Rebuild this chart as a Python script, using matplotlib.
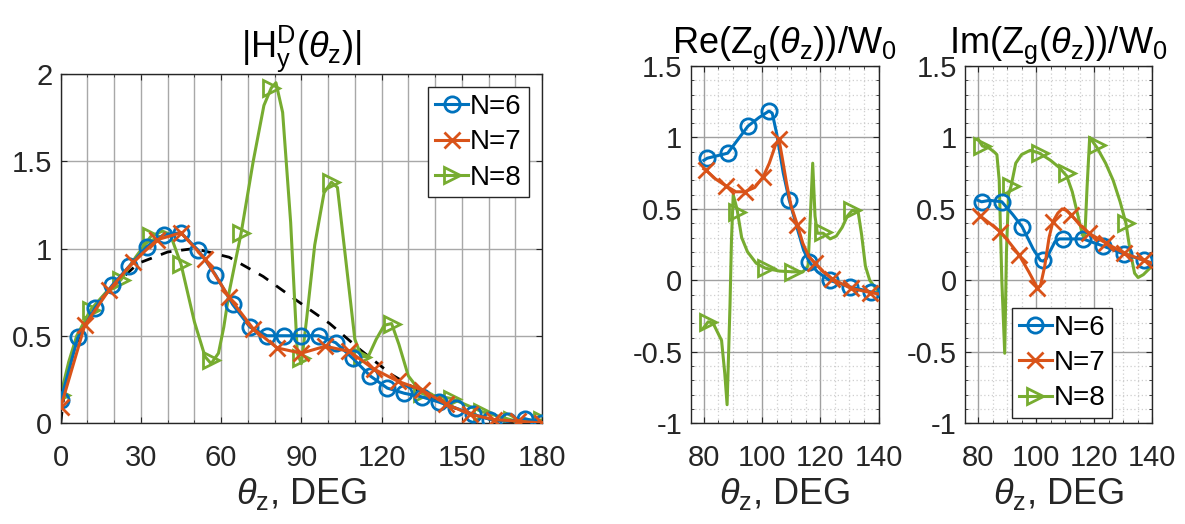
import numpy as np
import matplotlib

matplotlib.use('Agg')
from matplotlib import pyplot as plt
from matplotlib import font_manager
from matplotlib.ticker import MultipleLocator, FuncFormatter

# Helvetica-like face for all text
_have = set(f.name for f in font_manager.fontManager.ttflist)
FACE = next((n for n in ['Liberation Sans', 'Arimo'] if n in _have), 'DejaVu Sans')
plt.rcParams['font.family'] = [FACE, 'DejaVu Sans']
plt.rcParams['mathtext.fontset'] = 'custom'
plt.rcParams['mathtext.rm'] = FACE
plt.rcParams['mathtext.it'] = FACE + ':italic'
plt.rcParams['axes.unicode_minus'] = False

C6 = '#0072BD'
C7 = '#D95319'
C8 = '#77AC30'
TXT = '#262626'

# ---- |Hy| over the full angle range ----
theta6 = np.linspace(0, 180, 29)
h6 = [0.13, 0.49, 0.66, 0.79, 0.90, 1.01, 1.08, 1.09, 0.99, 0.85, 0.68, 0.55, 0.50,
      0.50, 0.50, 0.50, 0.46, 0.37, 0.27, 0.20, 0.17, 0.15, 0.12, 0.085, 0.05, 0.02,
      0.01, 0.025, 0.0]
theta7 = np.linspace(0, 180, 21)
h7 = [0.09, 0.56, 0.76, 0.92, 1.05, 1.09, 0.94, 0.72, 0.54, 0.43, 0.40, 0.44, 0.41,
      0.31, 0.24, 0.19, 0.11, 0.05, 0.02, 0.01, 0.0]
theta8 = np.linspace(0, 180, 17)
h8 = [0.16, 0.65, 0.82, 1.07, 0.91, 0.36, 1.09, 1.92, 0.37, 1.38, 0.38, 0.57, 0.17,
      0.14, 0.065, 0.017, 0.017]
# N=8 curve between the samples
h8_t = [0, 3, 6, 11.25, 17, 22.5, 28, 33.75, 38, 41, 45, 50, 54, 56.25, 59, 61, 63,
        67.5, 72, 76, 78.75, 80.5, 83, 86, 88.5, 90, 92, 95, 98.5, 101.25, 103.5, 106.5,
        110, 112.5, 115, 118, 121, 123.75, 126.5, 130, 135, 146.25, 157.5, 168.75, 180]
h8_v = [0.16, 0.35, 0.5, 0.65, 0.75, 0.82, 0.95, 1.07, 1.10, 1.08, 0.91, 0.58, 0.38,
        0.34, 0.40, 0.55, 0.75, 1.09, 1.50, 1.82, 1.92, 1.95, 1.78, 1.15, 0.4, 0.34,
        0.6, 1.02, 1.32, 1.38, 1.35, 0.95, 0.48, 0.38, 0.38, 0.48, 0.56, 0.57, 0.45,
        0.27, 0.17, 0.14, 0.065, 0.017, 0.017]
# reference pattern (dashed)
ref_t = [0, 1.6, 4, 9, 16.5, 29, 40, 50, 63, 75.7, 88, 100.6, 112, 124, 136.7, 149,
         161.5, 174, 180]
ref_v = [0, 0.21, 0.38, 0.57, 0.74, 0.915, 0.98, 1.0, 0.95, 0.84, 0.705, 0.57, 0.42,
         0.275, 0.16, 0.075, 0.017, 0.0, 0.0]

# ---- Zg / W0 near the resonance region ----
zx6 = [81.2, 88.2, 95.2, 102.4, 109.3, 116.2, 123.2, 130.2, 137.3]
zx7 = [80.8, 87.7, 94.1, 100.4, 105.8, 112.1, 118.2, 124.2, 130.4, 137.2]
zx8 = [81.5, 91.4, 101.2, 110.6, 121.0, 131.0]

re6 = [0.855, 0.89, 1.08, 1.185, 0.565, 0.13, 0.0, -0.045, -0.08]
re7 = [0.77, 0.66, 0.62, 0.725, 0.99, 0.39, 0.12, 0.01, -0.055, -0.085]
re8 = [-0.29, 0.48, 0.085, 0.06, 0.34, 0.49]

re6_t = [80, 81.2, 88.2, 95.2, 99, 102.4, 103.5, 105, 107.3, 109.3, 112, 114.3, 116.2,
         119, 123.2, 130.2, 137.3, 140]
re6_v = [0.84, 0.855, 0.89, 1.08, 1.14, 1.185, 1.17, 1.03, 0.75, 0.565, 0.37, 0.21,
         0.13, 0.06, 0.0, -0.045, -0.08, -0.09]
re7_t = [80, 80.8, 84, 87.7, 91, 94.1, 97.5, 100.4, 102.5, 104.5, 105.8, 107, 108.5,
         110, 112.1, 114, 116, 118.2, 121, 124.2, 130.4, 137.2, 140]
re7_v = [0.78, 0.77, 0.71, 0.66, 0.62, 0.62, 0.65, 0.725, 0.82, 0.94, 0.99, 0.85, 0.67,
         0.52, 0.39, 0.26, 0.17, 0.12, 0.06, 0.01, -0.055, -0.085, -0.095]
re8_t = [80, 81.5, 83.2, 86.1, 87.2, 88, 89, 89.5, 90.1, 91.4, 93, 95, 98, 101.2, 106,
         110.6, 114, 115.8, 116.6, 117.4, 118.2, 119, 121, 123.4, 125.5, 127.5, 129.3,
         131, 133, 134.2, 135.5, 137, 140]
re8_v = [-0.33, -0.29, -0.3, -0.42, -0.65, -0.87, -0.17, 0.28, 0.6, 0.5, 0.3, 0.2,
         0.12, 0.085, 0.065, 0.06, 0.06, 0.1, 0.45, 0.82, 0.45, 0.33, 0.33, 0.29, 0.31,
         0.37, 0.45, 0.49, 0.48, 0.32, 0.1, 0.0, -0.08]

im6 = [0.55, 0.55, 0.376, 0.14, 0.29, 0.29, 0.24, 0.185, 0.14]
im7 = [0.45, 0.34, 0.18, -0.05, 0.41, 0.46, 0.33, 0.26, 0.19, 0.14]
im8 = [0.94, 0.66, 0.89, 0.75, 0.95, 0.40]

im6_t = [80, 81.2, 84, 88.2, 92, 95.2, 99, 101.5, 102.4, 103.5, 105, 106.5, 108, 109.3,
         116.2, 123.2, 130.2, 137.3, 140]
im6_v = [0.56, 0.55, 0.56, 0.55, 0.46, 0.376, 0.22, 0.14, 0.135, 0.15, 0.21, 0.27, 0.29,
         0.29, 0.29, 0.24, 0.185, 0.14, 0.12]
im7_t = [80, 80.8, 84, 87.7, 91, 94.1, 97.5, 100.4, 101.5, 103, 104.5, 105.8, 107.5,
         109, 110.5, 112.1, 115, 118.2, 124.2, 130.4, 137.2, 140]
im7_v = [0.47, 0.45, 0.40, 0.34, 0.26, 0.18, 0.06, -0.05, -0.04, 0.1, 0.3, 0.41, 0.47,
         0.5, 0.49, 0.46, 0.39, 0.33, 0.26, 0.19, 0.14, 0.12]
im8_t = [80, 81.5, 83.5, 85.5, 86.5, 87.3, 88.2, 89.2, 89.8, 90.5, 91.4, 93, 95, 98,
         101.2, 105, 108, 110.6, 112.5, 114.5, 116, 116.8, 117.6, 118.5, 121, 124,
         126.6, 129, 131, 132.5, 134, 135.2, 137, 140]
im8_v = [0.99, 0.94, 0.93, 0.9, 0.88, 0.7, 0.0, -0.51, 0.2, 0.6, 0.66, 0.82, 0.88, 0.91,
         0.89, 0.84, 0.79, 0.73, 0.62, 0.45, 0.32, 0.29, 0.65, 1.0, 0.93, 0.82, 0.7,
         0.55, 0.40, 0.2, 0.05, 0.02, 0.04, 0.1]

labels = ['N=6', 'N=7', 'N=8']
fmt = FuncFormatter(lambda v, p: '%g' % v)
xlab = r'$\theta_{\mathregular{z}}$, DEG'

fig = plt.figure(figsize=(11.85, 5.24), dpi=100)
W, H = 1185.0, 524.0
ax1 = fig.add_axes([60.7 / W, 1 - 423 / H, 481.3 / W, 349 / H])
ax2 = fig.add_axes([690.7 / W, 1 - 423.3 / H, 187.8 / W, 357.3 / H])
ax3 = fig.add_axes([965 / W, 1 - 423.3 / H, 187 / W, 357.3 / H])

mk = dict(markersize=11, markeredgewidth=2, markerfacecolor='none')
lw = 2.2
TICK_FS = 21
LAB_FS = 26


def style(ax):
    for s in ax.spines.values():
        s.set_color(TXT)
        s.set_linewidth(1.0)
    ax.tick_params(which='both', direction='in', colors=TXT, labelsize=TICK_FS,
                   top=True, right=True, length=4)
    ax.tick_params(which='minor', length=2.5)
    ax.tick_params(axis='x', pad=15)
    ax.tick_params(axis='y', pad=6)
    ax.yaxis.set_major_formatter(fmt)
    ax.xaxis.set_major_formatter(fmt)
    ax.set_xlabel(xlab, fontsize=LAB_FS, color=TXT, labelpad=3)


def legend(ax, **kw):
    h_a, = ax.plot([], [], '-o', color=C6, lw=lw, **mk)
    h_b, = ax.plot([], [], '-x', color=C7, lw=lw, markersize=11, markeredgewidth=2)
    h_c, = ax.plot([], [], '->', color=C8, lw=lw, **mk)
    lg = ax.legend([h_a, h_b, h_c], labels, fontsize=20, handlelength=1.2,
                   handletextpad=0.05, borderpad=0.25, labelspacing=0.33,
                   borderaxespad=0, fancybox=False, framealpha=1, edgecolor=TXT, **kw)
    lg.get_frame().set_linewidth(1.0)


# left: |Hy|
ax1.plot(ref_t, ref_v, '--', color='black', lw=2.0, dashes=(4, 3.5), zorder=1)
ax1.plot(h8_t, h8_v, color=C8, lw=lw, zorder=2)
ax1.plot(theta8, h8, '>', color=C8, **mk, zorder=2)
ax1.plot(theta6, h6, '-o', color=C6, lw=lw, **mk, zorder=3)
ax1.plot(theta7, h7, '-x', color=C7, lw=lw, markersize=11, markeredgewidth=2, zorder=4)
ax1.set_xlim(0, 180)
ax1.set_ylim(0, 2)
ax1.xaxis.set_major_locator(MultipleLocator(30))
ax1.xaxis.set_minor_locator(MultipleLocator(10))
ax1.yaxis.set_major_locator(MultipleLocator(0.5))
ax1.grid(True, which='both', axis='x', color='#a8a8a8', lw=1.0)
ax1.grid(True, which='major', axis='y', color='#a8a8a8', lw=1.0)
ax1.set_axisbelow(True)
style(ax1)
ax1.set_title(r'$|\mathregular{H}_{\mathregular{y}}^{\mathregular{D}}(\theta_{\mathregular{z}})|$',
              fontsize=LAB_FS, color='black', pad=10)
legend(ax1, loc='upper right', bbox_to_anchor=(0.972, 0.962))


def zpanel(ax, v6, v7, v8, l6, l7, l8, title):
    ax.plot(l8[0], l8[1], color=C8, lw=lw, zorder=2)
    ax.plot(zx8, v8, '>', color=C8, **mk, zorder=2)
    ax.plot(l6[0], l6[1], color=C6, lw=lw, zorder=3)
    ax.plot(zx6, v6, 'o', color=C6, **mk, zorder=3)
    ax.plot(l7[0], l7[1], color=C7, lw=lw, zorder=4)
    ax.plot(zx7, v7, 'x', color=C7, markersize=11, markeredgewidth=2, zorder=4)
    ax.set_xlim(75.5, 140)
    ax.set_ylim(-1, 1.5)
    ax.xaxis.set_major_locator(MultipleLocator(20))
    ax.xaxis.set_minor_locator(MultipleLocator(5))
    ax.yaxis.set_major_locator(MultipleLocator(0.5))
    ax.yaxis.set_minor_locator(MultipleLocator(0.1))
    ax.grid(True, which='major', color='#a0a0a0', lw=1.0)
    ax.grid(True, which='minor', color='#cfcfcf', lw=0.9, linestyle=(0, (1, 2)))
    ax.set_axisbelow(True)
    style(ax)
    ax.set_title(title, fontsize=LAB_FS, color='black', pad=8)


zpanel(ax2, re6, re7, re8, (re6_t, re6_v), (re7_t, re7_v), (re8_t, re8_v),
       r'Re(Z$_{\mathregular{g}}$($\theta_{\mathregular{z}}$))/W$_{\mathregular{0}}$')
zpanel(ax3, im6, im7, im8, (im6_t, im6_v), (im7_t, im7_v), (im8_t, im8_v),
       r'Im(Z$_{\mathregular{g}}$($\theta_{\mathregular{z}}$))/W$_{\mathregular{0}}$')
legend(ax3, loc='lower left', bbox_to_anchor=(0.25, 0.014))

fig.savefig('out.png', dpi=100)
